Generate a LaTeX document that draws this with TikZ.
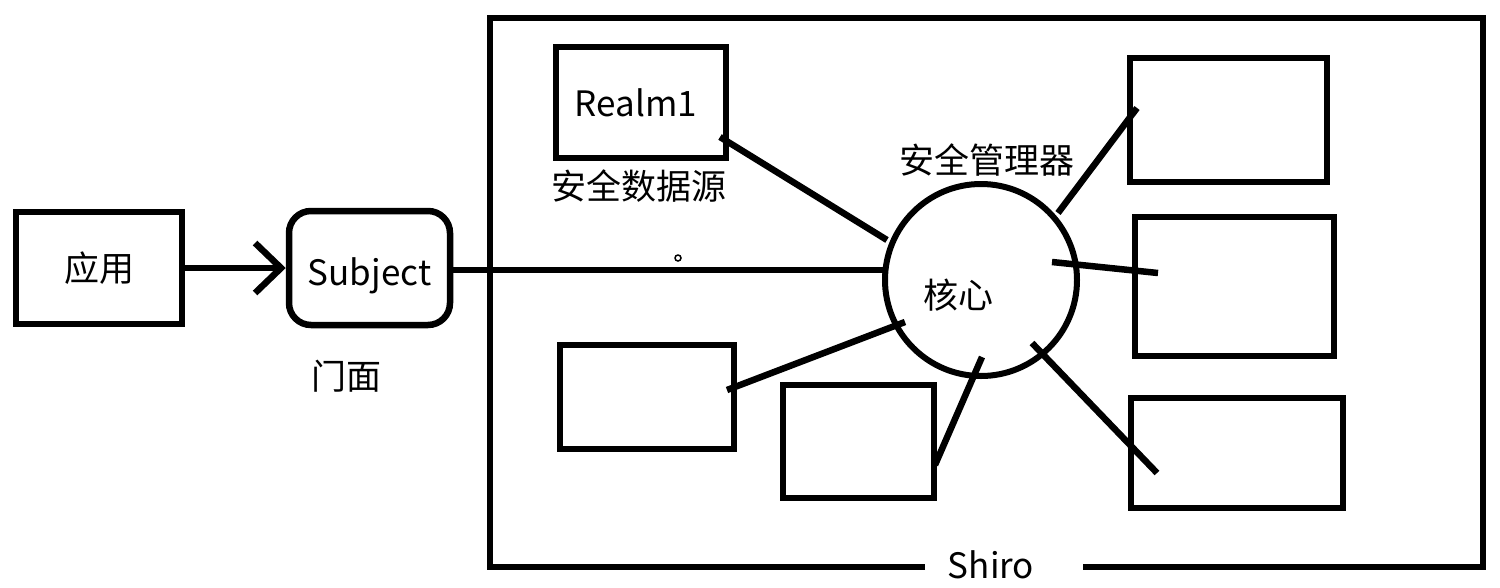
\documentclass[tikz,border=0pt]{standalone}
\usepackage{fontspec}
\setmainfont{Noto Sans CJK SC}
\usetikzlibrary{arrows.meta}
\begin{document}
\begin{tikzpicture}[x=1pt,y=-1pt,
  box/.style={draw, line width=6.5pt, rectangle, inner sep=0pt, font=\fontsize{35}{40}\selectfont},
  wire/.style={line width=6.5pt},
  lbl/.style={font=\fontsize{35}{40}\selectfont, inner sep=0pt}]
\useasboundingbox (0,0) rectangle (1500,587);
\fill[white] (0,0) rectangle (1500,587);

% left side
\node[box, minimum width=166pt, minimum height=112pt] (app) at (99,268) {应用};
\node[box, rounded corners=22pt, minimum width=161pt, minimum height=114pt] (subj) at (369.5,268) {\smash{\raisebox{-17pt}{Subject}}};
\node[lbl] (facade) at (346,376) {门面};

% Shiro frame
\node[lbl] (shiro) at (991,565) {Shiro};
\coordinate (frameL) at (925,567);
\coordinate (frameR) at (1083,567);
\draw[line width=6.5pt, line join=miter] (frameL) -| (490,18) -| (1483,567) -- (frameR);

% inner elements
\node[box, minimum width=170pt, minimum height=111pt] (realm) at (641,102.5) {\hspace*{-10pt}Realm1};
\node[lbl] (realmlbl) at (639,186) {安全数据源};
\node[lbl] (mgr) at (987,160) {安全管理器};
\node[circle, draw, line width=6pt, minimum size=192pt, inner sep=0pt] (core) at (981,280) {};
\node[lbl] (corelbl) at (958,295) {核心};
\node[circle, draw, line width=1.5pt, minimum size=6pt, inner sep=0pt] (dot) at (678,258) {};

\node[box, minimum width=197pt, minimum height=124pt] (r1) at (1228.5,120) {};
\node[box, minimum width=199pt, minimum height=139pt] (r2) at (1234.5,286.5) {};
\node[box, minimum width=212pt, minimum height=110pt] (r3) at (1237,453) {};
\node[box, minimum width=174pt, minimum height=104pt] (b1) at (647,397) {};
\node[box, minimum width=151pt, minimum height=113pt] (b2) at (858.5,441.5) {};

% connector end points
\coordinate (realmE) at (720,137);
\coordinate (coreA) at (887,240);
\coordinate (subjE) at (452,270);
\coordinate (coreW) at (883,270);
\coordinate (coreB) at (1058,213);
\coordinate (r1E) at (1137,108);
\coordinate (coreC) at (1052,262);
\coordinate (r2E) at (1158,273);
\coordinate (coreD) at (1032,343);
\coordinate (r3E) at (1157,473);
\coordinate (coreE) at (982,357);
\coordinate (b2E) at (935,465);
\coordinate (coreF) at (905,322);
\coordinate (b1E) at (727,390);

% connectors
\draw[wire, -{Straight Barb[length=26pt,width=50pt,sharp]}] (app.east) -- (subj.west);
\draw[wire] (subjE) -- (coreW);
\draw[wire] (realmE) -- (coreA);
\draw[wire] (coreB) -- (r1E);
\draw[wire] (coreC) -- (r2E);
\draw[wire] (coreD) -- (r3E);
\draw[wire] (coreE) -- (b2E);
\draw[wire] (coreF) -- (b1E);
\end{tikzpicture}
\end{document}
